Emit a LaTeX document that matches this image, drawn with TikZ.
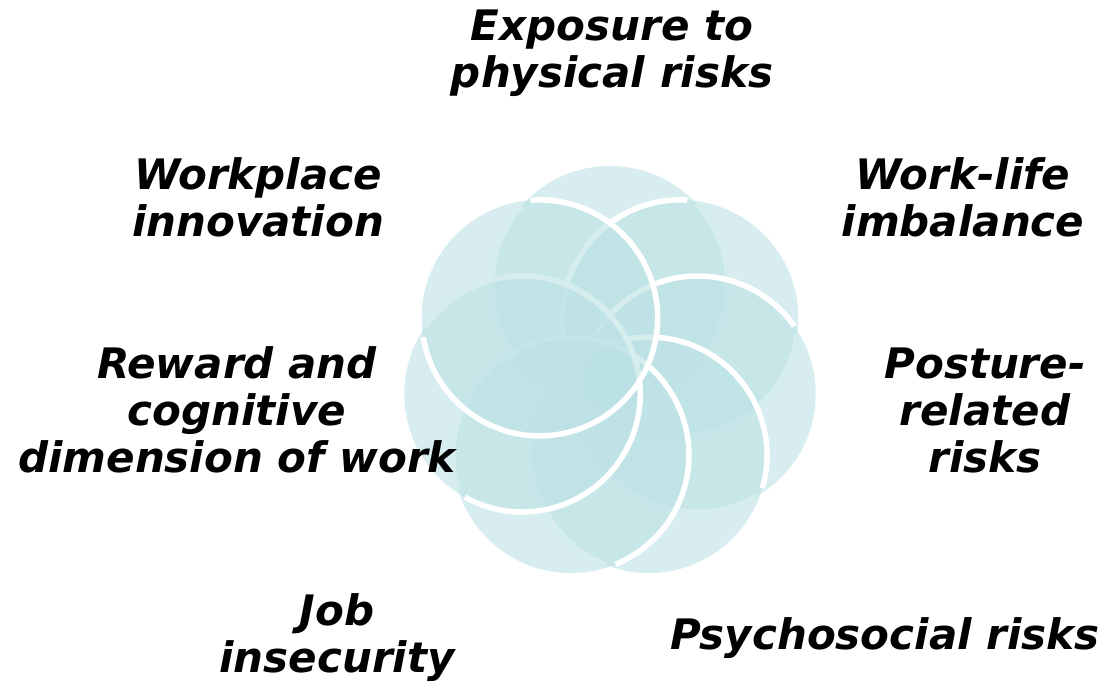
\documentclass[tikz,border=0pt]{standalone}
\usepackage{fontspec}
\newfontfamily\labfont{DejaVu Sans}
\definecolor{petal}{RGB}{188,225,228}
\tikzset{
  x=1pt, y=1pt,
  petalnode/.style={circle, minimum size=236pt, inner sep=0pt, draw=none, fill=petal, fill opacity=0.6},
  rim/.style={draw=white, line width=5.5pt},
  lab/.style={align=center, text=black, inner sep=0pt, font=\labfont\bfseries\itshape\fontsize{42}{47}\selectfont}
}
\newcommand{\petal}[2]{%
  \node[petalnode] (#1) at ($(ctr)+(#2:90)$) {};
  \draw[rim] (#1.center) ++({#2+48}:118) arc[start angle={#2+48}, end angle={#2+313}, radius=118];
}
\usetikzlibrary{calc}
\begin{document}
\begin{tikzpicture}
\useasboundingbox (0,0) rectangle (1106,682);
\coordinate (ctr) at (610,308);
\petal{cA}{90}
\petal{cB}{38.57}
\petal{cC}{-12.86}
\petal{cD}{-64.29}
\petal{cE}{-115.71}
\petal{cG}{-167.14}
\petal{cF}{141.43}
\node[lab] (tExp) at (612,629) {Exposure to\\physical risks};
\node[lab] (tInn) at (258,485) {Workplace\\innovation};
\node[lab] (tWlb) at (963,485) {Work-life\\imbalance};
\node[lab] (tPos) at (985,272) {Posture-\\related\\risks};
\node[lab] (tRew) at (237,272) {Reward and\\cognitive\\dimension of work};
\node[lab] (tJob) at (337,44) {Job\\insecurity};
\node[lab] (tPsy) at (885,44) {Psychosocial risks};
\end{tikzpicture}
\end{document}
